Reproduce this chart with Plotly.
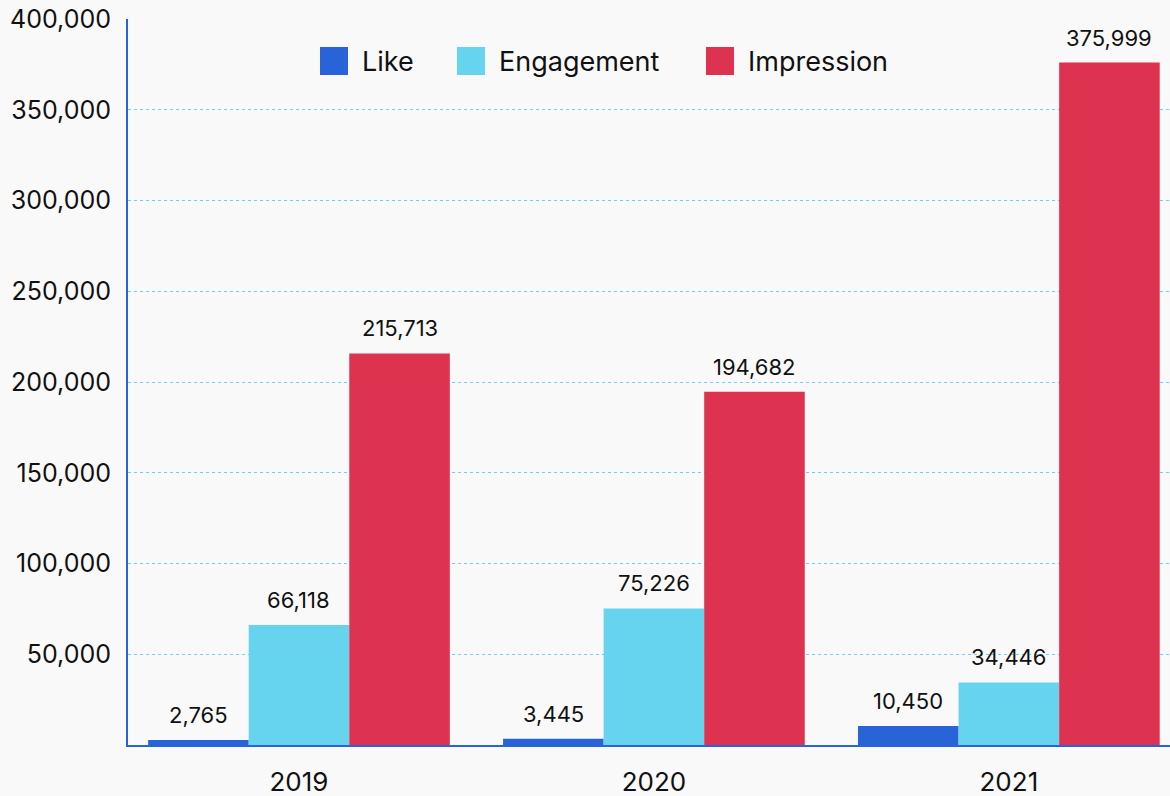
import plotly.graph_objects as go

years = ["2019", "2020", "2021"]
likes = [2765, 3445, 10450]
engagement = [66118, 75226, 34446]
impressions = [215713, 194682, 375999]

series_names = ["Like", "Engagement", "Impression"]
series_values = [likes, engagement, impressions]
series_colors = ["#2864d8", "#66d3ef", "#dd3351"]

y_ticks = [50000, 100000, 150000, 200000, 250000, 300000, 350000, 400000]

FONT = "Inter, Liberation Sans, sans-serif"
TEXT = "#111111"

# plot-area geometry in pixels (used to place the custom legend)
W, H = 1170, 796
ML, MR, MT, MB = 128, 0, 19, 51
PW, PH = W - ML - MR, H - MT - MB

X_RANGE = [-0.4817, 2.454]
BARGAP = 0.15


def px_x(p):
    return (p - ML) / PW


def px_y(p):
    return (H - MB - p) / PH


fig = go.Figure()
for name, values, color in zip(series_names, series_values, series_colors):
    fig.add_trace(go.Bar(
        name=name,
        x=years,
        y=values,
        marker=dict(color=color, line=dict(width=0)),
        showlegend=False,
        cliponaxis=False,
    ))

# value labels above each bar (x given as category index, shifted onto each bar)
unit_px = PW / (X_RANGE[1] - X_RANGE[0])
bar_px = unit_px * (1 - BARGAP) / len(series_names)
annotations = []
for i, values in enumerate(series_values):
    shift = (i - (len(series_names) - 1) / 2) * bar_px
    for j, v in enumerate(values):
        annotations.append(dict(
            x=j, y=v, xref="x", yref="y",
            text=f"{v:,}", showarrow=False,
            xanchor="center", yanchor="bottom",
            xshift=shift, yshift=10,
            font=dict(size=22, color=TEXT, family=FONT),
        ))

# legend: large square swatches with labels, in a row across the top
legend_left = [320, 457, 706]
swatch = 28
legend_mid = 61
shapes = []
for name, color, left in zip(series_names, series_colors, legend_left):
    shapes.append(dict(
        type="rect", xref="paper", yref="paper",
        x0=px_x(left), x1=px_x(left + swatch),
        y0=px_y(legend_mid + swatch / 2), y1=px_y(legend_mid - swatch / 2),
        fillcolor=color, line=dict(width=0),
    ))
    annotations.append(dict(
        x=px_x(left + swatch + 12), y=px_y(legend_mid),
        xref="paper", yref="paper",
        text=name, showarrow=False,
        xanchor="left", yanchor="middle",
        font=dict(size=27, color=TEXT, family=FONT),
    ))

fig.update_layout(
    width=W,
    height=H,
    margin=dict(l=ML, r=MR, t=MT, b=MB),
    paper_bgcolor="#f9f9f9",
    plot_bgcolor="#f9f9f9",
    barmode="group",
    bargap=BARGAP,
    bargroupgap=0,
    font=dict(family=FONT, size=22, color=TEXT),
    showlegend=False,
    annotations=annotations,
    shapes=shapes,
    xaxis=dict(
        type="category",
        range=X_RANGE,
        showline=True,
        linecolor="#2864d8",
        linewidth=2,
        showgrid=False,
        ticks="",
        ticklabelstandoff=13,
        tickfont=dict(size=26, color=TEXT),
    ),
    yaxis=dict(
        range=[0, 400000],
        tickvals=y_ticks,
        ticktext=[f"{v:,}" for v in y_ticks],
        showline=True,
        linecolor="#2864d8",
        linewidth=2,
        showgrid=True,
        gridcolor="#66d3ef",
        griddash="dot",
        gridwidth=1,
        zeroline=False,
        ticks="",
        ticklabelstandoff=10,
        tickfont=dict(size=25, color=TEXT),
    ),
)

fig.write_html("out.html")
